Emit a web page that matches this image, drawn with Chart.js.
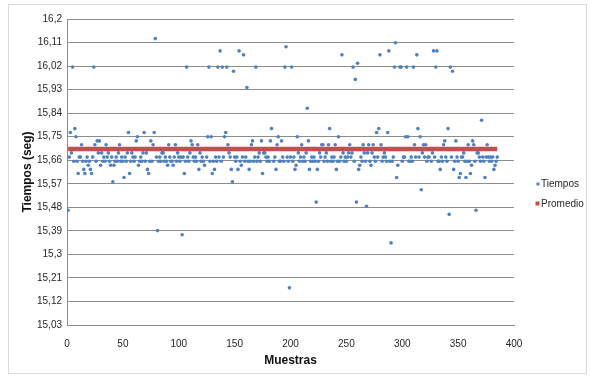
<!DOCTYPE html>
<html>
<head>
<meta charset="utf-8">
<script src="https://cdn.jsdelivr.net/npm/chart.js@4.4.0/dist/chart.umd.min.js"></script>
<style>
  html, body { margin: 0; padding: 0; background: #fff; }
  #wrap { width: 591px; height: 383px; }
</style>
</head>
<body>
<div id="wrap"><canvas id="chart" width="591" height="383"></canvas></div>
<script>
// tiempos por muestra (muestra 1..385)
const tiempos = [
  15.469, 15.672, 15.766, 15.688, 16.016, 15.656, 15.781, 15.75, 15.656, 15.609,
  15.672, 15.672, 15.719, 15.656, 15.625, 15.609, 15.656, 15.672, 15.641, 15.656,
  15.625, 15.609, 15.672, 16.016, 15.719, 15.656, 15.734, 15.688, 15.734, 15.641,
  15.688, 15.656, 15.672, 15.656, 15.719, 15.672, 15.688, 15.656, 15.641, 15.672,
  15.578, 15.641, 15.656, 15.672, 15.656, 15.688, 15.719, 15.656, 15.672, 15.656,
  15.594, 15.672, 15.656, 15.688, 15.766, 15.609, 15.656, 15.688, 15.672, 15.656,
  15.672, 15.734, 15.75, 15.641, 15.656, 15.672, 15.656, 15.688, 15.766, 15.656,
  15.688, 15.625, 15.609, 15.656, 15.734, 15.656, 15.719, 15.766, 16.125, 15.672,
  15.391, 15.656, 15.672, 15.656, 15.688, 15.688, 15.656, 15.672, 15.656, 15.641,
  15.719, 15.672, 15.656, 15.656, 15.641, 15.672, 15.719, 15.656, 15.688, 15.672,
  15.656, 15.672, 15.375, 15.672, 15.609, 15.656, 16.016, 15.672, 15.656, 15.688,
  15.734, 15.719, 15.672, 15.656, 15.672, 15.656, 15.719, 15.625, 15.688, 15.656,
  15.672, 15.656, 15.641, 15.703, 15.672, 15.75, 16.016, 15.656, 15.75, 15.609,
  15.656, 15.625, 15.672, 15.656, 16.016, 15.672, 16.078, 15.656, 16.016, 15.672,
  15.75, 15.766, 16.016, 15.719, 15.688, 15.672, 15.625, 15.578, 16.0, 15.672,
  15.656, 15.672, 15.625, 16.078, 15.656, 15.641, 15.672, 16.063, 15.656, 15.672,
  15.938, 15.656, 15.625, 15.656, 15.719, 15.734, 15.656, 15.672, 16.016, 15.656,
  15.672, 15.688, 15.656, 15.734, 15.609, 15.688, 15.688, 15.672, 15.656, 15.672,
  15.656, 15.734, 15.781, 15.703, 15.656, 15.672, 15.625, 15.719, 15.75, 15.656,
  15.656, 15.734, 15.672, 15.656, 16.016, 16.094, 15.672, 15.656, 15.172, 15.672,
  16.016, 15.656, 15.672, 15.625, 15.641, 15.75, 15.688, 15.656, 15.672, 15.719,
  15.656, 15.672, 15.656, 15.688, 15.859, 15.734, 15.625, 15.656, 15.672, 15.656,
  15.672, 15.656, 15.5, 15.625, 15.656, 15.688, 15.672, 15.719, 15.719, 15.656,
  15.672, 15.688, 15.656, 15.719, 15.781, 15.656, 15.672, 15.656, 15.672, 15.719,
  15.625, 15.656, 15.75, 15.656, 15.672, 16.063, 15.688, 15.656, 15.672, 15.656,
  15.672, 15.688, 15.719, 15.672, 15.688, 16.016, 15.656, 15.969, 15.5, 16.031,
  15.625, 15.641, 15.672, 15.656, 15.719, 15.688, 15.656, 15.484, 15.688, 15.719,
  15.656, 15.641, 15.688, 15.719, 15.672, 15.656, 15.766, 15.672, 15.781, 16.063,
  15.719, 15.656, 15.672, 15.688, 15.672, 15.656, 15.766, 16.078, 15.656, 15.344,
  15.656, 15.672, 16.016, 16.109, 15.594, 15.641, 15.703, 16.016, 16.016, 15.656,
  15.672, 15.672, 15.75, 16.016, 15.75, 15.656, 15.656, 15.672, 15.656, 16.016,
  15.719, 15.672, 16.063, 15.781, 15.672, 15.75, 15.547, 15.688, 15.719, 15.672,
  15.719, 15.656, 15.672, 15.672, 15.703, 15.656, 15.688, 16.078, 15.672, 16.016,
  16.078, 15.656, 15.656, 15.625, 15.672, 15.656, 15.719, 15.734, 15.672, 15.656,
  15.781, 15.453, 16.016, 15.672, 16.0, 15.625, 15.656, 15.734, 15.672, 15.656,
  15.594, 15.609, 15.672, 15.672, 15.688, 15.656, 15.594, 15.656, 15.719, 15.656,
  15.609, 15.641, 15.734, 15.719, 15.656, 15.469, 15.688, 15.688, 15.672, 15.656,
  15.813, 15.672, 15.656, 15.594, 15.672, 15.719, 15.672, 15.656, 15.672, 15.656,
  15.672, 15.625, 15.641, 15.656, 15.672
];
const promedio = 15.703;
const promedioDesde = 1;
const promedioHasta = 385;
const yTicks = [15.03, 15.12, 15.21, 15.3, 15.39, 15.48, 15.57, 15.66, 15.75, 15.84, 15.93, 16.02, 16.11, 16.2];
const xTicks = [0, 50, 100, 150, 200, 250, 300, 350, 400];

const grey = '#8c8c8c';
const txt = '#262626';
Chart.defaults.font.family = '"Liberation Sans", Arial, sans-serif';
Chart.defaults.color = txt;

const frame = {
  id: 'frame',
  beforeDraw(chart) {
    const c = chart.ctx;
    c.save();
    c.fillStyle = '#fff';
    c.fillRect(0, 0, chart.width, chart.height);
    c.strokeStyle = '#d9d9d9';
    c.lineWidth = 1;
    c.strokeRect(8.5, 4.5, 578, 369);
    c.restore();
  },
  afterDraw(chart) {
    // leyenda a la derecha
    const c = chart.ctx;
    c.save();
    c.font = '10px "Liberation Sans", Arial, sans-serif';
    c.textBaseline = 'middle';
    c.fillStyle = txt;
    c.fillText('Tiempos', 541, 184);
    c.fillText('Promedio', 541, 204);
    c.fillStyle = '#4f81bd';
    c.fillRect(536.5, 182.5, 3, 3);
    c.fillStyle = '#c0504d';
    c.fillRect(535.5, 201.5, 4, 4);
    c.restore();
  }
};

new Chart(document.getElementById('chart'), {
  type: 'scatter',
  data: {
    datasets: [
      {
        label: 'Tiempos',
        data: tiempos.map((y, i) => ({ x: i + 1, y })),
        pointStyle: 'circle',
        pointRadius: 1.8,
        pointBackgroundColor: '#4f81bd',
        pointBorderWidth: 0,
        order: 2
      },
      {
        label: 'Promedio',
        data: [{ x: promedioDesde, y: promedio }, { x: promedioHasta, y: promedio }],
        showLine: true,
        borderColor: '#c0504d',
        borderWidth: 4.5,
        pointRadius: 0,
        order: 1
      }
    ]
  },
  options: {
    responsive: false,
    animation: false,
    layout: { padding: { left: 20, right: 77, top: 19, bottom: 15 } },
    plugins: { legend: { display: false }, tooltip: { enabled: false } },
    scales: {
      x: {
        type: 'linear',
        min: 0, max: 400,
        afterBuildTicks: s => { s.ticks = xTicks.map(v => ({ value: v })); },
        afterFit: s => { s.height = 43; },
        grid: { display: false, drawTicks: false },
        border: { display: true, color: grey, width: 1 },
        ticks: { padding: 13, font: { size: 10 }, color: txt },
        title: { display: true, text: 'Muestras', font: { size: 12, weight: 'bold' }, color: '#111', padding: 0 }
      },
      y: {
        type: 'linear',
        min: 15.03, max: 16.2,
        afterBuildTicks: s => { s.ticks = yTicks.map(v => ({ value: v })); },
        afterFit: s => { s.width = 47; },
        grid: { color: grey, drawTicks: false },
        border: { display: true, color: grey, width: 1 },
        ticks: {
          padding: 5, font: { size: 10 }, color: txt,
          callback: v => String(v).replace('.', ',')
        },
        title: { display: true, text: 'Tiempos (seg)', font: { size: 12, weight: 'bold' }, color: '#111', padding: 0 }
      }
    }
  },
  plugins: [frame]
});
</script>
</body>
</html>
